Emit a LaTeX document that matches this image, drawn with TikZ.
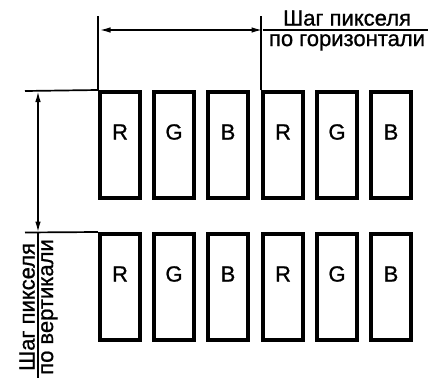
\documentclass[tikz,border=0pt]{standalone}
\usepackage{fontspec}
\setmainfont{Liberation Sans}
\newfontfamily\capfont[FakeBold=0.9]{Liberation Sans}
\usetikzlibrary{arrows.meta,positioning}

\begin{document}
\begin{tikzpicture}[x=1pt,y=-1pt,
    pixel/.style={draw, line width=4pt, minimum width=40pt, minimum height=106pt, inner sep=0pt},
    dimline/.style={line width=1.7pt},
    dimarrow/.style={line width=1.7pt, {Latex[length=11pt,width=5.5pt]}-{Latex[length=11pt,width=5.5pt]}},
    rgb/.style={font=\capfont\fontsize{22}{24}\selectfont, inner sep=0pt},
    lbl/.style={font=\capfont\fontsize{22}{24}\selectfont, inner sep=1pt}]
    \useasboundingbox (0,0) rectangle (428,378);

    % row 1
    \node[pixel] (p11) at (120,145) {};
    \node[pixel] (p12) at (174,145) {};
    \node[pixel] (p13) at (228,145) {};
    \node[pixel] (p14) at (283,145) {};
    \node[pixel] (p15) at (337,145) {};
    \node[pixel] (p16) at (391,145) {};
    % row 2
    \node[pixel] (p21) at (120,287) {};
    \node[pixel] (p22) at (174,287) {};
    \node[pixel] (p23) at (228,287) {};
    \node[pixel] (p24) at (283,287) {};
    \node[pixel] (p25) at (337,287) {};
    \node[pixel] (p26) at (391,287) {};

    % subpixel letters
    \node[rgb] (l11) at ([yshift=-42pt]p11.north) {R};
    \node[rgb] (l12) at ([yshift=-42pt]p12.north) {G};
    \node[rgb] (l13) at ([yshift=-42pt]p13.north) {B};
    \node[rgb] (l14) at ([yshift=-42pt]p14.north) {R};
    \node[rgb] (l15) at ([yshift=-42pt]p15.north) {G};
    \node[rgb] (l16) at ([yshift=-42pt]p16.north) {B};
    \node[rgb] (l21) at ([yshift=-42pt]p21.north) {R};
    \node[rgb] (l22) at ([yshift=-42pt]p22.north) {G};
    \node[rgb] (l23) at ([yshift=-42pt]p23.north) {B};
    \node[rgb] (l24) at ([yshift=-42pt]p24.north) {R};
    \node[rgb] (l25) at ([yshift=-42pt]p25.north) {G};
    \node[rgb] (l26) at ([yshift=-42pt]p26.north) {B};

    % horizontal pitch
    \coordinate (hA) at (99.5,30);
    \coordinate (hB) at (262.5,30);
    \coordinate (hEnd) at (428,30);
    \draw[dimline] (p11.north west) -- ++(0,-74);
    \draw[dimline] (p14.north west) -- ++(0,-74);
    \draw[dimarrow] (hA) -- (hB);
    \draw[dimline] (hB) -- (hEnd);
    \node[lbl, anchor=south] (hT1) at (347,27) {Шаг пикселя};
    \node[lbl, anchor=north] (hT2) at (347,33) {по горизонтали};

    % vertical pitch
    \coordinate (vA) at (38,91);
    \coordinate (vB) at (38,232.5);
    \coordinate (vEnd) at (38,378);
    \draw[dimline] (p11.north west) -- (25,91);
    \draw[dimline] (p21.north west) -- (25,232.5);
    \draw[dimarrow] (vA) -- (vB);
    \draw[dimline] (vB) -- (vEnd);
    \node[lbl, rotate=90, anchor=south] (vT1) at (36,307) {Шаг пикселя};
    \node[lbl, rotate=90, anchor=north] (vT2) at (40,307) {по вертикали};
\end{tikzpicture}
\end{document}
